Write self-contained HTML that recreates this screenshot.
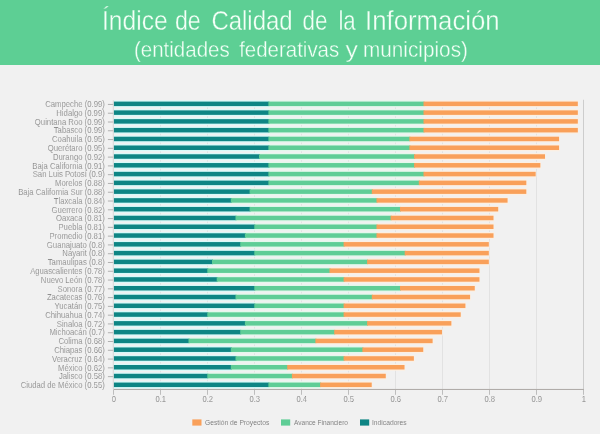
<!DOCTYPE html>
<html><head><meta charset="utf-8">
<style>
html,body{margin:0;padding:0;}
body{width:600px;height:434px;overflow:hidden;background:#f1f1f1;position:relative;font-family:"Liberation Sans",sans-serif;}
.head{position:absolute;left:0;top:0;width:600px;height:64.5px;background:#5dcf94;}
.tt{fill:#f4fff7;stroke:#5dcf94;stroke-width:0.35px;font-family:"Liberation Sans",sans-serif;}
svg{position:absolute;left:0;top:0;will-change:transform;}
.lab{font-size:8.3px;fill:#737373;stroke:#f1f1f1;stroke-width:0.18px;font-family:"Liberation Sans",sans-serif;}
.xl{font-size:8.6px;fill:#737373;stroke:#f1f1f1;stroke-width:0.18px;font-family:"Liberation Sans",sans-serif;}
.leg{font-size:7.5px;fill:#737373;stroke:#f1f1f1;stroke-width:0.08px;font-family:"Liberation Sans",sans-serif;}
</style></head><body>
<div class="head"></div>
<svg width="600" height="70" viewBox="0 0 600 70" class="hs">
<text x="102.00" y="30.4" class="tt" font-size="28" textLength="65.66" lengthAdjust="spacingAndGlyphs">Índice</text>
<text x="175.00" y="30.4" class="tt" font-size="28" textLength="25.75" lengthAdjust="spacingAndGlyphs">de</text>
<text x="211.40" y="30.4" class="tt" font-size="28" textLength="81.32" lengthAdjust="spacingAndGlyphs">Calidad</text>
<text x="302.60" y="30.4" class="tt" font-size="28" textLength="24.85" lengthAdjust="spacingAndGlyphs">de</text>
<text x="338.40" y="30.4" class="tt" font-size="28" textLength="17.36" lengthAdjust="spacingAndGlyphs">la</text>
<text x="365.00" y="30.4" class="tt" font-size="28" textLength="134.71" lengthAdjust="spacingAndGlyphs">Información</text>
<text x="133.90" y="57" class="tt" font-size="22.5" textLength="95.89" lengthAdjust="spacingAndGlyphs">(entidades</text>
<text x="239.20" y="57" class="tt" font-size="22.5" textLength="100.03" lengthAdjust="spacingAndGlyphs">federativas</text>
<text x="345.50" y="57" class="tt" font-size="22.5" textLength="12.40" lengthAdjust="spacingAndGlyphs">y</text>
<text x="363.00" y="57" class="tt" font-size="22.5" textLength="104.94" lengthAdjust="spacingAndGlyphs">municipios)</text>
</svg>
<svg width="600" height="434" viewBox="0 0 600 434">
<line x1="160.50" y1="100.95" x2="160.50" y2="389" stroke="#e2e2e2" stroke-width="1"/>
<line x1="207.50" y1="100.95" x2="207.50" y2="389" stroke="#e2e2e2" stroke-width="1"/>
<line x1="254.50" y1="100.95" x2="254.50" y2="389" stroke="#e2e2e2" stroke-width="1"/>
<line x1="301.50" y1="100.95" x2="301.50" y2="389" stroke="#e2e2e2" stroke-width="1"/>
<line x1="348.50" y1="100.95" x2="348.50" y2="389" stroke="#e2e2e2" stroke-width="1"/>
<line x1="395.50" y1="100.95" x2="395.50" y2="389" stroke="#e2e2e2" stroke-width="1"/>
<line x1="442.50" y1="100.95" x2="442.50" y2="389" stroke="#e2e2e2" stroke-width="1"/>
<line x1="489.50" y1="100.95" x2="489.50" y2="389" stroke="#e2e2e2" stroke-width="1"/>
<line x1="536.50" y1="100.95" x2="536.50" y2="389" stroke="#e2e2e2" stroke-width="1"/>
<line x1="583.50" y1="99.75" x2="583.50" y2="389" stroke="#cdcdcd" stroke-width="1"/>
<rect x="113.80" y="100.29" width="155.60" height="7.1" fill="#d8faf9"/>
<rect x="268.40" y="100.29" width="156.10" height="7.1" fill="#e4f8ec"/>
<rect x="423.50" y="100.29" width="154.92" height="7.1" fill="#fcefe2"/>
<rect x="113.80" y="101.59" width="155.60" height="4.5" fill="#0e8584"/>
<rect x="268.40" y="101.59" width="156.10" height="4.5" fill="#5fcd96"/>
<rect x="423.50" y="101.59" width="154.32" height="4.5" fill="#f9a05a"/>
<line x1="107.90" y1="104.44" x2="113.50" y2="104.44" stroke="#a0a0a0" stroke-width="0.8"/>
<text x="104.8" y="107.14" text-anchor="end" class="lab" textLength="59.64" lengthAdjust="spacingAndGlyphs">Campeche (0.99)</text>
<rect x="113.80" y="109.07" width="155.60" height="7.1" fill="#d8faf9"/>
<rect x="268.40" y="109.07" width="156.10" height="7.1" fill="#e4f8ec"/>
<rect x="423.50" y="109.07" width="154.92" height="7.1" fill="#fcefe2"/>
<rect x="113.80" y="110.37" width="155.60" height="4.5" fill="#0e8584"/>
<rect x="268.40" y="110.37" width="156.10" height="4.5" fill="#5fcd96"/>
<rect x="423.50" y="110.37" width="154.32" height="4.5" fill="#f9a05a"/>
<line x1="107.90" y1="113.22" x2="113.50" y2="113.22" stroke="#a0a0a0" stroke-width="0.8"/>
<text x="104.8" y="115.92" text-anchor="end" class="lab" textLength="48.49" lengthAdjust="spacingAndGlyphs">Hidalgo (0.99)</text>
<rect x="113.80" y="117.85" width="155.60" height="7.1" fill="#d8faf9"/>
<rect x="268.40" y="117.85" width="156.10" height="7.1" fill="#e4f8ec"/>
<rect x="423.50" y="117.85" width="154.92" height="7.1" fill="#fcefe2"/>
<rect x="113.80" y="119.15" width="155.60" height="4.5" fill="#0e8584"/>
<rect x="268.40" y="119.15" width="156.10" height="4.5" fill="#5fcd96"/>
<rect x="423.50" y="119.15" width="154.32" height="4.5" fill="#f9a05a"/>
<line x1="107.90" y1="122.00" x2="113.50" y2="122.00" stroke="#a0a0a0" stroke-width="0.8"/>
<text x="104.8" y="124.70" text-anchor="end" class="lab" textLength="69.95" lengthAdjust="spacingAndGlyphs">Quintana Roo (0.99)</text>
<rect x="113.80" y="126.63" width="155.60" height="7.1" fill="#d8faf9"/>
<rect x="268.40" y="126.63" width="156.10" height="7.1" fill="#e4f8ec"/>
<rect x="423.50" y="126.63" width="154.92" height="7.1" fill="#fcefe2"/>
<rect x="113.80" y="127.93" width="155.60" height="4.5" fill="#0e8584"/>
<rect x="268.40" y="127.93" width="156.10" height="4.5" fill="#5fcd96"/>
<rect x="423.50" y="127.93" width="154.32" height="4.5" fill="#f9a05a"/>
<line x1="107.90" y1="130.78" x2="113.50" y2="130.78" stroke="#a0a0a0" stroke-width="0.8"/>
<text x="104.8" y="133.48" text-anchor="end" class="lab" textLength="51.06" lengthAdjust="spacingAndGlyphs">Tabasco (0.99)</text>
<rect x="113.80" y="135.41" width="155.60" height="7.1" fill="#d8faf9"/>
<rect x="268.40" y="135.41" width="142.00" height="7.1" fill="#e4f8ec"/>
<rect x="409.40" y="135.41" width="150.28" height="7.1" fill="#fcefe2"/>
<rect x="113.80" y="136.71" width="155.60" height="4.5" fill="#0e8584"/>
<rect x="268.40" y="136.71" width="142.00" height="4.5" fill="#5fcd96"/>
<rect x="409.40" y="136.71" width="149.68" height="4.5" fill="#f9a05a"/>
<line x1="107.90" y1="139.56" x2="113.50" y2="139.56" stroke="#a0a0a0" stroke-width="0.8"/>
<text x="104.8" y="142.26" text-anchor="end" class="lab" textLength="52.78" lengthAdjust="spacingAndGlyphs">Coahuila (0.95)</text>
<rect x="113.80" y="144.19" width="155.60" height="7.1" fill="#d8faf9"/>
<rect x="268.40" y="144.19" width="142.00" height="7.1" fill="#e4f8ec"/>
<rect x="409.40" y="144.19" width="150.28" height="7.1" fill="#fcefe2"/>
<rect x="113.80" y="145.49" width="155.60" height="4.5" fill="#0e8584"/>
<rect x="268.40" y="145.49" width="142.00" height="4.5" fill="#5fcd96"/>
<rect x="409.40" y="145.49" width="149.68" height="4.5" fill="#f9a05a"/>
<line x1="107.90" y1="148.34" x2="113.50" y2="148.34" stroke="#a0a0a0" stroke-width="0.8"/>
<text x="104.8" y="151.04" text-anchor="end" class="lab" textLength="57.07" lengthAdjust="spacingAndGlyphs">Querétaro (0.95)</text>
<rect x="113.80" y="152.97" width="146.20" height="7.1" fill="#d8faf9"/>
<rect x="259.00" y="152.97" width="156.10" height="7.1" fill="#e4f8ec"/>
<rect x="414.10" y="152.97" width="131.53" height="7.1" fill="#fcefe2"/>
<rect x="113.80" y="154.27" width="146.20" height="4.5" fill="#0e8584"/>
<rect x="259.00" y="154.27" width="156.10" height="4.5" fill="#5fcd96"/>
<rect x="414.10" y="154.27" width="130.93" height="4.5" fill="#f9a05a"/>
<line x1="107.90" y1="157.12" x2="113.50" y2="157.12" stroke="#a0a0a0" stroke-width="0.8"/>
<text x="104.8" y="159.82" text-anchor="end" class="lab" textLength="51.92" lengthAdjust="spacingAndGlyphs">Durango (0.92)</text>
<rect x="113.80" y="161.75" width="155.60" height="7.1" fill="#d8faf9"/>
<rect x="268.40" y="161.75" width="146.70" height="7.1" fill="#e4f8ec"/>
<rect x="414.10" y="161.75" width="126.84" height="7.1" fill="#fcefe2"/>
<rect x="113.80" y="163.05" width="155.60" height="4.5" fill="#0e8584"/>
<rect x="268.40" y="163.05" width="146.70" height="4.5" fill="#5fcd96"/>
<rect x="414.10" y="163.05" width="126.24" height="4.5" fill="#f9a05a"/>
<line x1="107.90" y1="165.90" x2="113.50" y2="165.90" stroke="#a0a0a0" stroke-width="0.8"/>
<text x="104.8" y="168.60" text-anchor="end" class="lab" textLength="72.51" lengthAdjust="spacingAndGlyphs">Baja California (0.91)</text>
<rect x="113.80" y="170.53" width="155.60" height="7.1" fill="#d8faf9"/>
<rect x="268.40" y="170.53" width="156.10" height="7.1" fill="#e4f8ec"/>
<rect x="423.50" y="170.53" width="112.76" height="7.1" fill="#fcefe2"/>
<rect x="113.80" y="171.83" width="155.60" height="4.5" fill="#0e8584"/>
<rect x="268.40" y="171.83" width="156.10" height="4.5" fill="#5fcd96"/>
<rect x="423.50" y="171.83" width="112.16" height="4.5" fill="#f9a05a"/>
<line x1="107.90" y1="174.68" x2="113.50" y2="174.68" stroke="#a0a0a0" stroke-width="0.8"/>
<text x="104.8" y="177.38" text-anchor="end" class="lab" textLength="72.09" lengthAdjust="spacingAndGlyphs">San Luis Potosí (0.9)</text>
<rect x="113.80" y="179.31" width="155.60" height="7.1" fill="#d8faf9"/>
<rect x="268.40" y="179.31" width="151.40" height="7.1" fill="#e4f8ec"/>
<rect x="418.80" y="179.31" width="108.09" height="7.1" fill="#fcefe2"/>
<rect x="113.80" y="180.61" width="155.60" height="4.5" fill="#0e8584"/>
<rect x="268.40" y="180.61" width="151.40" height="4.5" fill="#5fcd96"/>
<rect x="418.80" y="180.61" width="107.49" height="4.5" fill="#f9a05a"/>
<line x1="107.90" y1="183.46" x2="113.50" y2="183.46" stroke="#a0a0a0" stroke-width="0.8"/>
<text x="104.8" y="186.16" text-anchor="end" class="lab" textLength="49.77" lengthAdjust="spacingAndGlyphs">Morelos (0.88)</text>
<rect x="113.80" y="188.09" width="136.80" height="7.1" fill="#d8faf9"/>
<rect x="249.60" y="188.09" width="123.20" height="7.1" fill="#e4f8ec"/>
<rect x="371.80" y="188.09" width="155.09" height="7.1" fill="#fcefe2"/>
<rect x="113.80" y="189.39" width="136.80" height="4.5" fill="#0e8584"/>
<rect x="249.60" y="189.39" width="123.20" height="4.5" fill="#5fcd96"/>
<rect x="371.80" y="189.39" width="154.49" height="4.5" fill="#f9a05a"/>
<line x1="107.90" y1="192.24" x2="113.50" y2="192.24" stroke="#a0a0a0" stroke-width="0.8"/>
<text x="104.8" y="194.94" text-anchor="end" class="lab" textLength="86.67" lengthAdjust="spacingAndGlyphs">Baja California Sur (0.88)</text>
<rect x="113.80" y="196.87" width="118.00" height="7.1" fill="#d8faf9"/>
<rect x="230.80" y="196.87" width="146.70" height="7.1" fill="#e4f8ec"/>
<rect x="376.50" y="196.87" width="131.66" height="7.1" fill="#fcefe2"/>
<rect x="113.80" y="198.17" width="118.00" height="4.5" fill="#0e8584"/>
<rect x="230.80" y="198.17" width="146.70" height="4.5" fill="#5fcd96"/>
<rect x="376.50" y="198.17" width="131.06" height="4.5" fill="#f9a05a"/>
<line x1="107.90" y1="201.02" x2="113.50" y2="201.02" stroke="#a0a0a0" stroke-width="0.8"/>
<text x="104.8" y="203.72" text-anchor="end" class="lab" textLength="51.05" lengthAdjust="spacingAndGlyphs">Tlaxcala (0.84)</text>
<rect x="113.80" y="205.65" width="136.80" height="7.1" fill="#d8faf9"/>
<rect x="249.60" y="205.65" width="151.40" height="7.1" fill="#e4f8ec"/>
<rect x="400.00" y="205.65" width="98.79" height="7.1" fill="#fcefe2"/>
<rect x="113.80" y="206.95" width="136.80" height="4.5" fill="#0e8584"/>
<rect x="249.60" y="206.95" width="151.40" height="4.5" fill="#5fcd96"/>
<rect x="400.00" y="206.95" width="98.19" height="4.5" fill="#f9a05a"/>
<line x1="107.90" y1="209.80" x2="113.50" y2="209.80" stroke="#a0a0a0" stroke-width="0.8"/>
<text x="104.8" y="212.50" text-anchor="end" class="lab" textLength="53.20" lengthAdjust="spacingAndGlyphs">Guerrero (0.82)</text>
<rect x="113.80" y="214.43" width="122.70" height="7.1" fill="#d8faf9"/>
<rect x="235.50" y="214.43" width="156.10" height="7.1" fill="#e4f8ec"/>
<rect x="390.60" y="214.43" width="103.50" height="7.1" fill="#fcefe2"/>
<rect x="113.80" y="215.73" width="122.70" height="4.5" fill="#0e8584"/>
<rect x="235.50" y="215.73" width="156.10" height="4.5" fill="#5fcd96"/>
<rect x="390.60" y="215.73" width="102.90" height="4.5" fill="#f9a05a"/>
<line x1="107.90" y1="218.58" x2="113.50" y2="218.58" stroke="#a0a0a0" stroke-width="0.8"/>
<text x="104.8" y="221.28" text-anchor="end" class="lab" textLength="48.91" lengthAdjust="spacingAndGlyphs">Oaxaca (0.81)</text>
<rect x="113.80" y="223.21" width="141.50" height="7.1" fill="#d8faf9"/>
<rect x="254.30" y="223.21" width="123.20" height="7.1" fill="#e4f8ec"/>
<rect x="376.50" y="223.21" width="117.60" height="7.1" fill="#fcefe2"/>
<rect x="113.80" y="224.51" width="141.50" height="4.5" fill="#0e8584"/>
<rect x="254.30" y="224.51" width="123.20" height="4.5" fill="#5fcd96"/>
<rect x="376.50" y="224.51" width="117.00" height="4.5" fill="#f9a05a"/>
<line x1="107.90" y1="227.36" x2="113.50" y2="227.36" stroke="#a0a0a0" stroke-width="0.8"/>
<text x="104.8" y="230.06" text-anchor="end" class="lab" textLength="46.35" lengthAdjust="spacingAndGlyphs">Puebla (0.81)</text>
<rect x="113.80" y="231.99" width="132.10" height="7.1" fill="#d8faf9"/>
<rect x="244.90" y="231.99" width="132.60" height="7.1" fill="#e4f8ec"/>
<rect x="376.50" y="231.99" width="117.60" height="7.1" fill="#fcefe2"/>
<rect x="113.80" y="233.29" width="132.10" height="4.5" fill="#0e8584"/>
<rect x="244.90" y="233.29" width="132.60" height="4.5" fill="#5fcd96"/>
<rect x="376.50" y="233.29" width="117.00" height="4.5" fill="#f9a05a"/>
<line x1="107.90" y1="236.14" x2="113.50" y2="236.14" stroke="#a0a0a0" stroke-width="0.8"/>
<text x="104.8" y="238.84" text-anchor="end" class="lab" textLength="55.35" lengthAdjust="spacingAndGlyphs">Promedio (0.81)</text>
<rect x="113.80" y="240.77" width="127.40" height="7.1" fill="#d8faf9"/>
<rect x="240.20" y="240.77" width="104.40" height="7.1" fill="#e4f8ec"/>
<rect x="343.60" y="240.77" width="145.82" height="7.1" fill="#fcefe2"/>
<rect x="113.80" y="242.07" width="127.40" height="4.5" fill="#0e8584"/>
<rect x="240.20" y="242.07" width="104.40" height="4.5" fill="#5fcd96"/>
<rect x="343.60" y="242.07" width="145.22" height="4.5" fill="#f9a05a"/>
<line x1="107.90" y1="244.92" x2="113.50" y2="244.92" stroke="#a0a0a0" stroke-width="0.8"/>
<text x="104.8" y="247.62" text-anchor="end" class="lab" textLength="57.93" lengthAdjust="spacingAndGlyphs">Guanajuato (0.8)</text>
<rect x="113.80" y="249.56" width="141.50" height="7.1" fill="#d8faf9"/>
<rect x="254.30" y="249.56" width="151.40" height="7.1" fill="#e4f8ec"/>
<rect x="404.70" y="249.56" width="84.72" height="7.1" fill="#fcefe2"/>
<rect x="113.80" y="250.86" width="141.50" height="4.5" fill="#0e8584"/>
<rect x="254.30" y="250.86" width="151.40" height="4.5" fill="#5fcd96"/>
<rect x="404.70" y="250.86" width="84.12" height="4.5" fill="#f9a05a"/>
<line x1="107.90" y1="253.71" x2="113.50" y2="253.71" stroke="#a0a0a0" stroke-width="0.8"/>
<text x="104.8" y="256.41" text-anchor="end" class="lab" textLength="42.47" lengthAdjust="spacingAndGlyphs">Nayarit (0.8)</text>
<rect x="113.80" y="258.34" width="99.20" height="7.1" fill="#d8faf9"/>
<rect x="212.00" y="258.34" width="156.10" height="7.1" fill="#e4f8ec"/>
<rect x="367.10" y="258.34" width="122.32" height="7.1" fill="#fcefe2"/>
<rect x="113.80" y="259.64" width="99.20" height="4.5" fill="#0e8584"/>
<rect x="212.00" y="259.64" width="156.10" height="4.5" fill="#5fcd96"/>
<rect x="367.10" y="259.64" width="121.72" height="4.5" fill="#f9a05a"/>
<line x1="107.90" y1="262.49" x2="113.50" y2="262.49" stroke="#a0a0a0" stroke-width="0.8"/>
<text x="104.8" y="265.19" text-anchor="end" class="lab" textLength="57.06" lengthAdjust="spacingAndGlyphs">Tamaulipas (0.8)</text>
<rect x="113.80" y="267.12" width="94.50" height="7.1" fill="#d8faf9"/>
<rect x="207.30" y="267.12" width="123.20" height="7.1" fill="#e4f8ec"/>
<rect x="329.50" y="267.12" width="150.55" height="7.1" fill="#fcefe2"/>
<rect x="113.80" y="268.42" width="94.50" height="4.5" fill="#0e8584"/>
<rect x="207.30" y="268.42" width="123.20" height="4.5" fill="#5fcd96"/>
<rect x="329.50" y="268.42" width="149.95" height="4.5" fill="#f9a05a"/>
<line x1="107.90" y1="271.27" x2="113.50" y2="271.27" stroke="#a0a0a0" stroke-width="0.8"/>
<text x="104.8" y="273.97" text-anchor="end" class="lab" textLength="74.67" lengthAdjust="spacingAndGlyphs">Aguascalientes (0.78)</text>
<rect x="113.80" y="275.90" width="103.90" height="7.1" fill="#d8faf9"/>
<rect x="216.70" y="275.90" width="127.90" height="7.1" fill="#e4f8ec"/>
<rect x="343.60" y="275.90" width="136.45" height="7.1" fill="#fcefe2"/>
<rect x="113.80" y="277.20" width="103.90" height="4.5" fill="#0e8584"/>
<rect x="216.70" y="277.20" width="127.90" height="4.5" fill="#5fcd96"/>
<rect x="343.60" y="277.20" width="135.85" height="4.5" fill="#f9a05a"/>
<line x1="107.90" y1="280.05" x2="113.50" y2="280.05" stroke="#a0a0a0" stroke-width="0.8"/>
<text x="104.8" y="282.75" text-anchor="end" class="lab" textLength="63.94" lengthAdjust="spacingAndGlyphs">Nuevo León (0.78)</text>
<rect x="113.80" y="284.68" width="141.50" height="7.1" fill="#d8faf9"/>
<rect x="254.30" y="284.68" width="146.70" height="7.1" fill="#e4f8ec"/>
<rect x="400.00" y="284.68" width="75.37" height="7.1" fill="#fcefe2"/>
<rect x="113.80" y="285.98" width="141.50" height="4.5" fill="#0e8584"/>
<rect x="254.30" y="285.98" width="146.70" height="4.5" fill="#5fcd96"/>
<rect x="400.00" y="285.98" width="74.77" height="4.5" fill="#f9a05a"/>
<line x1="107.90" y1="288.83" x2="113.50" y2="288.83" stroke="#a0a0a0" stroke-width="0.8"/>
<text x="104.8" y="291.53" text-anchor="end" class="lab" textLength="47.20" lengthAdjust="spacingAndGlyphs">Sonora (0.77)</text>
<rect x="113.80" y="293.46" width="122.70" height="7.1" fill="#d8faf9"/>
<rect x="235.50" y="293.46" width="137.30" height="7.1" fill="#e4f8ec"/>
<rect x="371.80" y="293.46" width="98.88" height="7.1" fill="#fcefe2"/>
<rect x="113.80" y="294.76" width="122.70" height="4.5" fill="#0e8584"/>
<rect x="235.50" y="294.76" width="137.30" height="4.5" fill="#5fcd96"/>
<rect x="371.80" y="294.76" width="98.28" height="4.5" fill="#f9a05a"/>
<line x1="107.90" y1="297.61" x2="113.50" y2="297.61" stroke="#a0a0a0" stroke-width="0.8"/>
<text x="104.8" y="300.31" text-anchor="end" class="lab" textLength="57.92" lengthAdjust="spacingAndGlyphs">Zacatecas (0.76)</text>
<rect x="113.80" y="302.24" width="141.50" height="7.1" fill="#d8faf9"/>
<rect x="254.30" y="302.24" width="90.30" height="7.1" fill="#e4f8ec"/>
<rect x="343.60" y="302.24" width="122.40" height="7.1" fill="#fcefe2"/>
<rect x="113.80" y="303.54" width="141.50" height="4.5" fill="#0e8584"/>
<rect x="254.30" y="303.54" width="90.30" height="4.5" fill="#5fcd96"/>
<rect x="343.60" y="303.54" width="121.80" height="4.5" fill="#f9a05a"/>
<line x1="107.90" y1="306.39" x2="113.50" y2="306.39" stroke="#a0a0a0" stroke-width="0.8"/>
<text x="104.8" y="309.09" text-anchor="end" class="lab" textLength="50.21" lengthAdjust="spacingAndGlyphs">Yucatán (0.75)</text>
<rect x="113.80" y="311.02" width="94.50" height="7.1" fill="#d8faf9"/>
<rect x="207.30" y="311.02" width="137.30" height="7.1" fill="#e4f8ec"/>
<rect x="343.60" y="311.02" width="117.72" height="7.1" fill="#fcefe2"/>
<rect x="113.80" y="312.32" width="94.50" height="4.5" fill="#0e8584"/>
<rect x="207.30" y="312.32" width="137.30" height="4.5" fill="#5fcd96"/>
<rect x="343.60" y="312.32" width="117.12" height="4.5" fill="#f9a05a"/>
<line x1="107.90" y1="315.17" x2="113.50" y2="315.17" stroke="#a0a0a0" stroke-width="0.8"/>
<text x="104.8" y="317.87" text-anchor="end" class="lab" textLength="59.65" lengthAdjust="spacingAndGlyphs">Chihuahua (0.74)</text>
<rect x="113.80" y="319.80" width="132.10" height="7.1" fill="#d8faf9"/>
<rect x="244.90" y="319.80" width="123.20" height="7.1" fill="#e4f8ec"/>
<rect x="367.10" y="319.80" width="84.85" height="7.1" fill="#fcefe2"/>
<rect x="113.80" y="321.10" width="132.10" height="4.5" fill="#0e8584"/>
<rect x="244.90" y="321.10" width="123.20" height="4.5" fill="#5fcd96"/>
<rect x="367.10" y="321.10" width="84.25" height="4.5" fill="#f9a05a"/>
<line x1="107.90" y1="323.95" x2="113.50" y2="323.95" stroke="#a0a0a0" stroke-width="0.8"/>
<text x="104.8" y="326.65" text-anchor="end" class="lab" textLength="48.06" lengthAdjust="spacingAndGlyphs">Sinaloa (0.72)</text>
<rect x="113.80" y="328.58" width="127.40" height="7.1" fill="#d8faf9"/>
<rect x="240.20" y="328.58" width="95.00" height="7.1" fill="#e4f8ec"/>
<rect x="334.20" y="328.58" width="108.38" height="7.1" fill="#fcefe2"/>
<rect x="113.80" y="329.88" width="127.40" height="4.5" fill="#0e8584"/>
<rect x="240.20" y="329.88" width="95.00" height="4.5" fill="#5fcd96"/>
<rect x="334.20" y="329.88" width="107.78" height="4.5" fill="#f9a05a"/>
<line x1="107.90" y1="332.73" x2="113.50" y2="332.73" stroke="#a0a0a0" stroke-width="0.8"/>
<text x="104.8" y="335.43" text-anchor="end" class="lab" textLength="55.35" lengthAdjust="spacingAndGlyphs">Michoacán (0.7)</text>
<rect x="113.80" y="337.36" width="75.70" height="7.1" fill="#d8faf9"/>
<rect x="188.50" y="337.36" width="127.90" height="7.1" fill="#e4f8ec"/>
<rect x="315.40" y="337.36" width="117.81" height="7.1" fill="#fcefe2"/>
<rect x="113.80" y="338.66" width="75.70" height="4.5" fill="#0e8584"/>
<rect x="188.50" y="338.66" width="127.90" height="4.5" fill="#5fcd96"/>
<rect x="315.40" y="338.66" width="117.21" height="4.5" fill="#f9a05a"/>
<line x1="107.90" y1="341.51" x2="113.50" y2="341.51" stroke="#a0a0a0" stroke-width="0.8"/>
<text x="104.8" y="344.21" text-anchor="end" class="lab" textLength="46.33" lengthAdjust="spacingAndGlyphs">Colima (0.68)</text>
<rect x="113.80" y="346.14" width="118.00" height="7.1" fill="#d8faf9"/>
<rect x="230.80" y="346.14" width="132.60" height="7.1" fill="#e4f8ec"/>
<rect x="362.40" y="346.14" width="61.44" height="7.1" fill="#fcefe2"/>
<rect x="113.80" y="347.44" width="118.00" height="4.5" fill="#0e8584"/>
<rect x="230.80" y="347.44" width="132.60" height="4.5" fill="#5fcd96"/>
<rect x="362.40" y="347.44" width="60.84" height="4.5" fill="#f9a05a"/>
<line x1="107.90" y1="350.29" x2="113.50" y2="350.29" stroke="#a0a0a0" stroke-width="0.8"/>
<text x="104.8" y="352.99" text-anchor="end" class="lab" textLength="50.63" lengthAdjust="spacingAndGlyphs">Chiapas (0.66)</text>
<rect x="113.80" y="354.92" width="122.70" height="7.1" fill="#d8faf9"/>
<rect x="235.50" y="354.92" width="109.10" height="7.1" fill="#e4f8ec"/>
<rect x="343.60" y="354.92" width="70.88" height="7.1" fill="#fcefe2"/>
<rect x="113.80" y="356.22" width="122.70" height="4.5" fill="#0e8584"/>
<rect x="235.50" y="356.22" width="109.10" height="4.5" fill="#5fcd96"/>
<rect x="343.60" y="356.22" width="70.28" height="4.5" fill="#f9a05a"/>
<line x1="107.90" y1="359.07" x2="113.50" y2="359.07" stroke="#a0a0a0" stroke-width="0.8"/>
<text x="104.8" y="361.77" text-anchor="end" class="lab" textLength="52.77" lengthAdjust="spacingAndGlyphs">Veracruz (0.64)</text>
<rect x="113.80" y="363.70" width="118.00" height="7.1" fill="#d8faf9"/>
<rect x="230.80" y="363.70" width="57.40" height="7.1" fill="#e4f8ec"/>
<rect x="287.20" y="363.70" width="117.91" height="7.1" fill="#fcefe2"/>
<rect x="113.80" y="365.00" width="118.00" height="4.5" fill="#0e8584"/>
<rect x="230.80" y="365.00" width="57.40" height="4.5" fill="#5fcd96"/>
<rect x="287.20" y="365.00" width="117.31" height="4.5" fill="#f9a05a"/>
<line x1="107.90" y1="367.85" x2="113.50" y2="367.85" stroke="#a0a0a0" stroke-width="0.8"/>
<text x="104.8" y="370.55" text-anchor="end" class="lab" textLength="46.76" lengthAdjust="spacingAndGlyphs">México (0.62)</text>
<rect x="113.80" y="372.48" width="94.50" height="7.1" fill="#d8faf9"/>
<rect x="207.30" y="372.48" width="85.60" height="7.1" fill="#e4f8ec"/>
<rect x="291.90" y="372.48" width="94.47" height="7.1" fill="#fcefe2"/>
<rect x="113.80" y="373.78" width="94.50" height="4.5" fill="#0e8584"/>
<rect x="207.30" y="373.78" width="85.60" height="4.5" fill="#5fcd96"/>
<rect x="291.90" y="373.78" width="93.87" height="4.5" fill="#f9a05a"/>
<line x1="107.90" y1="376.63" x2="113.50" y2="376.63" stroke="#a0a0a0" stroke-width="0.8"/>
<text x="104.8" y="379.33" text-anchor="end" class="lab" textLength="45.91" lengthAdjust="spacingAndGlyphs">Jalisco (0.58)</text>
<rect x="113.80" y="381.26" width="155.60" height="7.1" fill="#d8faf9"/>
<rect x="268.40" y="381.26" width="52.70" height="7.1" fill="#e4f8ec"/>
<rect x="320.10" y="381.26" width="52.22" height="7.1" fill="#fcefe2"/>
<rect x="113.80" y="382.56" width="155.60" height="4.5" fill="#0e8584"/>
<rect x="268.40" y="382.56" width="52.70" height="4.5" fill="#5fcd96"/>
<rect x="320.10" y="382.56" width="51.62" height="4.5" fill="#f9a05a"/>
<text x="104.8" y="388.11" text-anchor="end" class="lab" textLength="84.10" lengthAdjust="spacingAndGlyphs">Ciudad de México (0.55)</text>
<line x1="113.3" y1="100.25" x2="113.3" y2="389.2" stroke="#cfcfcf" stroke-width="0.8"/>
<line x1="113.5" y1="389.45" x2="584.0" y2="389.45" stroke="#aca7a4" stroke-width="1"/>
<line x1="113.50" y1="389.9" x2="113.50" y2="394.8" stroke="#b0b0b0" stroke-width="0.8"/>
<text x="113.80" y="401.7" text-anchor="middle" class="xl" textLength="4.23" lengthAdjust="spacingAndGlyphs">0</text>
<line x1="160.50" y1="389.9" x2="160.50" y2="394.8" stroke="#b0b0b0" stroke-width="0.8"/>
<text x="160.80" y="401.7" text-anchor="middle" class="xl" textLength="10.56" lengthAdjust="spacingAndGlyphs">0.1</text>
<line x1="207.50" y1="389.9" x2="207.50" y2="394.8" stroke="#b0b0b0" stroke-width="0.8"/>
<text x="207.80" y="401.7" text-anchor="middle" class="xl" textLength="10.56" lengthAdjust="spacingAndGlyphs">0.2</text>
<line x1="254.50" y1="389.9" x2="254.50" y2="394.8" stroke="#b0b0b0" stroke-width="0.8"/>
<text x="254.80" y="401.7" text-anchor="middle" class="xl" textLength="10.56" lengthAdjust="spacingAndGlyphs">0.3</text>
<line x1="301.50" y1="389.9" x2="301.50" y2="394.8" stroke="#b0b0b0" stroke-width="0.8"/>
<text x="301.80" y="401.7" text-anchor="middle" class="xl" textLength="10.56" lengthAdjust="spacingAndGlyphs">0.4</text>
<line x1="348.50" y1="389.9" x2="348.50" y2="394.8" stroke="#b0b0b0" stroke-width="0.8"/>
<text x="348.80" y="401.7" text-anchor="middle" class="xl" textLength="10.56" lengthAdjust="spacingAndGlyphs">0.5</text>
<line x1="395.50" y1="389.9" x2="395.50" y2="394.8" stroke="#b0b0b0" stroke-width="0.8"/>
<text x="395.80" y="401.7" text-anchor="middle" class="xl" textLength="10.56" lengthAdjust="spacingAndGlyphs">0.6</text>
<line x1="442.50" y1="389.9" x2="442.50" y2="394.8" stroke="#b0b0b0" stroke-width="0.8"/>
<text x="442.80" y="401.7" text-anchor="middle" class="xl" textLength="10.56" lengthAdjust="spacingAndGlyphs">0.7</text>
<line x1="489.50" y1="389.9" x2="489.50" y2="394.8" stroke="#b0b0b0" stroke-width="0.8"/>
<text x="489.80" y="401.7" text-anchor="middle" class="xl" textLength="10.56" lengthAdjust="spacingAndGlyphs">0.8</text>
<line x1="536.50" y1="389.9" x2="536.50" y2="394.8" stroke="#b0b0b0" stroke-width="0.8"/>
<text x="536.80" y="401.7" text-anchor="middle" class="xl" textLength="10.56" lengthAdjust="spacingAndGlyphs">0.9</text>
<line x1="583.50" y1="389.9" x2="583.50" y2="394.8" stroke="#b0b0b0" stroke-width="0.8"/>
<text x="583.80" y="401.7" text-anchor="middle" class="xl" textLength="4.23" lengthAdjust="spacingAndGlyphs">1</text>
<rect x="192.3" y="419.4" width="9.2" height="6.2" fill="#f9a05a"/>
<text x="205" y="425.4" class="leg" textLength="64.3" lengthAdjust="spacingAndGlyphs">Gestión de Proyectos</text>
<rect x="281" y="419.4" width="9.2" height="6.2" fill="#5fcd96"/>
<text x="294" y="425.4" class="leg" textLength="54" lengthAdjust="spacingAndGlyphs">Avance Financiero</text>
<rect x="360" y="419.4" width="9.2" height="6.2" fill="#0e8584"/>
<text x="372" y="425.4" class="leg" textLength="34.7" lengthAdjust="spacingAndGlyphs">Indicadores</text>
</svg>
</body></html>
